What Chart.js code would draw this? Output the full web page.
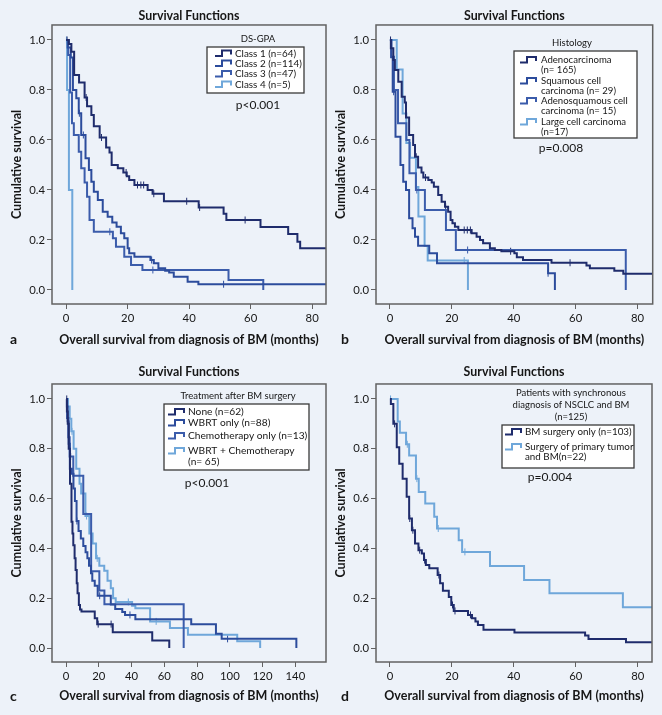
<!DOCTYPE html>
<html>
<head>
<meta charset="utf-8">
<script src="https://cdn.jsdelivr.net/npm/chart.js@4.4.1/dist/chart.umd.min.js"></script>
<style>
  html, body { margin: 0; padding: 0; background: #edf2f9; }
  #wrap { position: relative; width: 662px; height: 715px; overflow: hidden; }
  canvas { position: absolute; }
</style>
</head>
<body>
<div id="wrap">
  <canvas id="chartA" width="331" height="352" style="left:0;top:0"></canvas>
  <canvas id="chartB" width="331" height="352" style="left:331px;top:0"></canvas>
  <canvas id="chartC" width="331" height="363" style="left:0;top:352px"></canvas>
  <canvas id="chartD" width="331" height="363" style="left:331px;top:352px"></canvas>
</div>
<script>
const FONT = 'Lato, "Open Sans", sans-serif';
const INK = '#161616';
const AXIS = '#626262';
const NAVY = '#1f2c6c';
const BLUE2 = '#2c4c9c';
const BLUE3 = '#3b5cab';
const LIGHT = '#6fa7da';

// shared axis ticks
const yTicks = [0, 0.2, 0.4, 0.6, 0.8, 1.0];
const xTicks80 = [0, 20, 40, 60, 80];
const xTicks140 = [0, 20, 40, 60, 80, 100, 120, 140];
const xTitle = 'Overall survival from diagnosis of BM (months)';
const yTitle = 'Cumulative survival';
const chartTitle = 'Survival Functions';

// a - DS-GPA
const timeA1 = [0, 0.9, 1.7, 2.6, 4.2, 6.0, 6.8, 8.2, 9.0, 10.9, 13.0, 14.1, 14.8, 16.8, 18.6, 19.7, 20.5, 22.2, 26.5, 28.1, 31.8, 43.1, 51.2, 52.1, 63.2, 72.2, 75.2, 76.1, 86];
const survA1 = [1.0, 0.984, 0.953, 0.86, 0.83, 0.77, 0.735, 0.70, 0.655, 0.61, 0.57, 0.55, 0.50, 0.487, 0.47, 0.455, 0.44, 0.42, 0.40, 0.385, 0.355, 0.33, 0.305, 0.28, 0.252, 0.224, 0.193, 0.167, 0.167];
const censA1 = [0.3, 6.5, 11.5, 19.5, 23.2, 24.3, 25.2, 28.5, 39.2, 43.4, 58.2];
const timeA2 = [0, 0.5, 1.5, 2.2, 3.3, 4.1, 4.9, 6.3, 7.4, 8.2, 9.0, 10.3, 11.9, 13.5, 15.0, 16.4, 17.8, 18.9, 20.0, 20.5, 22.2, 27.4, 28.5, 30.0, 32.2, 33.5, 35.0, 39.5, 43.0, 86];
const survA2 = [1.0, 0.97, 0.93, 0.80, 0.767, 0.707, 0.62, 0.527, 0.48, 0.433, 0.393, 0.36, 0.313, 0.293, 0.27, 0.253, 0.227, 0.207, 0.167, 0.147, 0.133, 0.12, 0.107, 0.087, 0.077, 0.07, 0.053, 0.033, 0.023, 0.023];
const censA2 = [4.3, 5.6, 27.8, 51.2];
const timeA3 = [0, 0.65, 1.3, 1.9, 2.5, 4.1, 4.9, 6.0, 6.8, 7.6, 9.0, 15.2, 16.2, 18.9, 21.1, 24.8, 52.8, 64.1];
const survA3 = [1.0, 0.94, 0.79, 0.667, 0.62, 0.553, 0.487, 0.43, 0.373, 0.28, 0.233, 0.207, 0.173, 0.133, 0.10, 0.08, 0.04, 0.0];
const censA3 = [14.2, 28.2];
const timeA4 = [0, 0.3, 0.9, 2.0];
const survA4 = [1.0, 0.8, 0.4, 0.0];
const censA4 = [0.1];
const labelsA = [['Class 1 (n=64)'], ['Class 2 (n=114)'], ['Class 3 (n=47)'], ['Class 4 (n=5)']];

// b - Histology
const timeB1 = [0, 0.3, 1.1, 1.6, 2.7, 3.8, 4.8, 5.2, 6.2, 7.5, 8.1, 9.1, 10.2, 10.8, 12.4, 13.5, 14.2, 15.6, 16.7, 17.8, 18.8, 19.6, 20.2, 21.0, 22.1, 26.4, 28.0, 29.1, 30.1, 32.3, 33.9, 36.0, 40.2, 41.0, 43.0, 52.2, 63.5, 64.6, 72.5, 75.4, 86];
const survB1 = [1.0, 0.967, 0.92, 0.88, 0.833, 0.773, 0.75, 0.69, 0.62, 0.58, 0.533, 0.49, 0.47, 0.45, 0.44, 0.43, 0.413, 0.38, 0.353, 0.333, 0.313, 0.28, 0.267, 0.253, 0.24, 0.227, 0.213, 0.2, 0.187, 0.167, 0.16, 0.155, 0.147, 0.131, 0.12, 0.109, 0.098, 0.087, 0.077, 0.065, 0.065];
const censB1 = [0.2, 8.5, 11.5, 18.0, 24.0, 25.0, 26.0, 39.0, 58.2];
const timeB2 = [0, 0.4, 0.9, 1.8, 3.4, 4.3, 5.2, 6.2, 7.3, 8.1, 9.1, 12.7, 15.2, 51.1, 53.3];
const survB2 = [1.0, 0.931, 0.793, 0.613, 0.50, 0.433, 0.40, 0.287, 0.247, 0.213, 0.177, 0.147, 0.107, 0.067, 0.0];
const censB2 = [1.2, 51.1];
const timeB3 = [0, 0.5, 1.3, 2.6, 5.3, 6.3, 8.4, 11.3, 18.1, 21.3, 76.2];
const survB3 = [1.0, 0.933, 0.80, 0.667, 0.60, 0.467, 0.40, 0.32, 0.24, 0.16, 0.0];
const censB3 = [8.7, 25.1];
const timeB4 = [0, 2.2, 4.1, 5.3, 6.5, 8.4, 9.2, 11.2, 12.2, 25.2];
const survB4 = [1.0, 0.882, 0.706, 0.588, 0.529, 0.412, 0.294, 0.176, 0.118, 0.0];
const censB4 = [24.0];
const labelsB = [['Adenocarcinoma', '(n= 165)'], ['Squamous cell', 'carcinoma (n= 29)'], ['Adenosquamous cell', 'carcinoma (n= 15)'], ['Large cell carcinoma', '(n=17)']];

// c - Treatment after BM surgery
const timeC1 = [0, 0.5, 1.0, 1.6, 2.4, 3.3, 3.9, 4.4, 5.2, 5.8, 6.5, 7.0, 7.8, 8.5, 9.4, 17.5, 19.0, 28.5, 52.6, 63.0];
const survC1 = [1.0, 0.95, 0.90, 0.80, 0.66, 0.507, 0.46, 0.413, 0.36, 0.313, 0.26, 0.22, 0.173, 0.155, 0.147, 0.12, 0.096, 0.063, 0.03, 0.0];
const censC1 = [0.4, 19.6, 27.5];
const timeC2 = [0, 0.5, 1.0, 1.6, 2.3, 3.5, 4.5, 5.4, 6.4, 7.6, 9.0, 10.5, 11.9, 13.0, 14.0, 15.2, 16.0, 17.5, 19.3, 27.3, 30.0, 34.3, 36.0, 42.3, 76.4, 91.5, 95.0, 140.6];
const survC2 = [1.0, 0.97, 0.91, 0.82, 0.72, 0.70, 0.64, 0.59, 0.51, 0.47, 0.44, 0.41, 0.385, 0.36, 0.33, 0.30, 0.27, 0.25, 0.21, 0.175, 0.157, 0.145, 0.133, 0.116, 0.096, 0.057, 0.037, 0.0];
const censC2 = [6.6, 20.5, 39.0, 98.6];
const timeC3 = [0, 0.6, 1.4, 2.2, 4.4, 10.5, 15.3, 20.3, 23.4, 71.8];
const survC3 = [1.0, 0.923, 0.846, 0.769, 0.692, 0.538, 0.308, 0.231, 0.176, 0.0];
const censC3 = [2.8];
const timeC4 = [0, 1.2, 2.2, 3.2, 4.6, 6.2, 8.2, 9.2, 11.8, 14.2, 16.2, 18.3, 20.3, 23.3, 25.3, 27.3, 28.7, 30.3, 40.3, 42.3, 51.3, 63.4, 74.4, 104.5, 118.5];
const survC4 = [1.0, 0.97, 0.92, 0.87, 0.80, 0.72, 0.66, 0.62, 0.53, 0.46, 0.42, 0.36, 0.33, 0.31, 0.27, 0.24, 0.20, 0.185, 0.17, 0.16, 0.107, 0.08, 0.053, 0.027, 0.0];
const censC4 = [3.6, 12.5, 19.0, 38.0, 55.0];
const labelsC = [['None (n=62)'], ['WBRT only (n=88)'], ['Chemotherapy only (n=13)'], ['WBRT + Chemotherapy', '(n= 65)']];

// d - synchronous NSCLC and BM
const timeD1 = [0, 0.3, 1.1, 2.2, 3.0, 4.1, 5.4, 6.2, 7.1, 8.1, 9.2, 10.3, 11.0, 11.6, 12.7, 15.4, 16.2, 17.1, 19.0, 19.8, 20.6, 25.2, 26.5, 27.6, 28.4, 30.2, 40.2, 63.0, 64.1, 76.2, 86];
const survD1 = [1.0, 0.98, 0.90, 0.806, 0.74, 0.68, 0.607, 0.52, 0.473, 0.42, 0.393, 0.38, 0.353, 0.333, 0.32, 0.293, 0.26, 0.23, 0.205, 0.173, 0.149, 0.133, 0.12, 0.107, 0.093, 0.073, 0.062, 0.05, 0.036, 0.023, 0.023];
const censD1 = [1.5, 6.4, 7.4, 9.6, 11.2, 15.8, 20.2, 21.0, 26.0];
const timeD2 = [0, 2.5, 3.2, 5.2, 6.2, 8.4, 9.3, 11.4, 14.3, 15.2, 22.2, 23.3, 32.3, 43.3, 51.5, 75.2, 86];
const survD2 = [1.0, 0.909, 0.864, 0.818, 0.773, 0.68, 0.626, 0.58, 0.527, 0.48, 0.433, 0.386, 0.329, 0.273, 0.22, 0.164, 0.164];
const censD2 = [0.2, 5.6, 8.7, 15.6, 24.2];
const labelsD = [['BM surgery only (n=103)'], ['Surgery of primary tumor', 'and BM(n=22)']];

function stepAt(times, surv, t) {
  let v = surv[0];
  for (let i = 0; i < times.length; i++) {
    if (times[i] <= t) v = surv[i];
  }
  return v;
}

function curve(label, times, surv, color) {
  return {
    label: label,
    data: times.map((t, i) => ({ x: t, y: surv[i] })),
    showLine: true,
    stepped: true,
    borderColor: color,
    borderWidth: 2,
    pointRadius: 0,
    pointHoverRadius: 0
  };
}

function marks(times, surv, cens, color) {
  return {
    data: cens.map(t => ({ x: t, y: stepAt(times, surv, t) })),
    showLine: false,
    pointStyle: 'line',
    rotation: 90,
    pointRadius: 3.5,
    borderColor: color,
    borderWidth: 1
  };
}

// box frame round the plot
const framePlugin = {
  id: 'frame',
  afterDatasetsDraw(chart) {
    const a = chart.chartArea;
    const ctx = chart.ctx;
    ctx.save();
    ctx.strokeStyle = AXIS;
    ctx.lineWidth = 1.5;
    ctx.strokeRect(a.left, a.top, a.right - a.left, a.bottom - a.top);
    ctx.restore();
  }
};

// legend box with heading, p value and panel letter
const boxLegend = {
  id: 'boxLegend',
  afterDraw(chart, args, o) {
    const ctx = chart.ctx;
    ctx.save();
    ctx.textBaseline = 'middle';
    ctx.fillStyle = INK;
    ctx.font = '9.5px ' + FONT;
    ctx.textAlign = 'center';
    o.heading.forEach((line, i) => ctx.fillText(line, o.headX, o.headY + i * 12));

    const [bx, by, bw, bh] = o.box;
    ctx.fillStyle = '#ffffff';
    ctx.fillRect(bx, by, bw, bh);
    ctx.strokeStyle = '#3a3a3a';
    ctx.lineWidth = 1.3;
    ctx.strokeRect(bx, by, bw, bh);

    const sets = chart.data.datasets.filter(d => d.label);
    ctx.textAlign = 'left';
    sets.forEach((d, i) => {
      const y = o.rows[i];
      const x = o.iconX;
      ctx.strokeStyle = d.borderColor;
      ctx.lineWidth = 2;
      ctx.beginPath();
      ctx.moveTo(x, y + 2.5);
      ctx.lineTo(x + 7, y + 2.5);
      ctx.lineTo(x + 7, y - 3);
      ctx.lineTo(x + 16, y - 3);
      ctx.lineTo(x + 16, y + 1);
      ctx.stroke();
      ctx.fillStyle = INK;
      ctx.font = o.itemSize + 'px ' + FONT;
      o.labels[i].forEach((line, k) => ctx.fillText(line, o.textX, y + k * 10.3));
    });

    ctx.font = '12px ' + FONT;
    ctx.textAlign = 'center';
    ctx.fillText(o.pText, o.pX, o.pY);

    ctx.font = 'bold 14px ' + FONT;
    ctx.textAlign = 'left';
    ctx.fillText(o.letter, 10, o.letterY);
    ctx.restore();
  }
};

function makeKM(id, g, datasets, xMin, xMax, xTicks, legend) {
  const tickFont = { family: FONT, size: 11.3 };
  const titleFont = { family: FONT, size: 12.5, weight: 'bold' };
  return new Chart(document.getElementById(id), {
    type: 'scatter',
    data: { datasets: datasets },
    plugins: [framePlugin, boxLegend],
    options: {
      responsive: false,
      animation: false,
      layout: { padding: { top: 0, left: 0, bottom: 0, right: g.w - g.right } },
      plugins: {
        legend: { display: false },
        tooltip: { enabled: false },
        title: {
          display: true,
          text: chartTitle,
          fullSize: false,
          color: INK,
          font: { family: FONT, size: 12.4, weight: 'bold' },
          padding: { top: g.titleY - 7.4, bottom: g.top - g.titleY - 7.5 }
        },
        boxLegend: legend
      },
      scales: {
        x: {
          type: 'linear',
          min: xMin,
          max: xMax,
          afterBuildTicks: s => { s.ticks = xTicks.map(v => ({ value: v })); },
          afterFit: s => { s.height = g.h - g.bottom; },
          grid: { drawOnChartArea: false, tickLength: 5, color: AXIS, lineWidth: 1 },
          border: { display: false },
          ticks: { font: tickFont, color: INK, padding: 3, maxRotation: 0, autoSkip: false },
          title: { display: true, text: xTitle, color: INK, font: titleFont, padding: { top: 0, bottom: g.xTitlePad } }
        },
        y: {
          type: 'linear',
          min: -0.056,
          max: 1.06,
          afterBuildTicks: s => { s.ticks = yTicks.map(v => ({ value: v })); },
          afterFit: s => { s.width = g.left; },
          grid: { drawOnChartArea: false, tickLength: 5, color: AXIS, lineWidth: 1 },
          border: { display: false },
          ticks: { font: tickFont, color: INK, padding: 2, callback: v => v.toFixed(1) },
          title: { display: true, text: yTitle, color: INK, font: titleFont, padding: { top: g.yTitlePad, bottom: 0 } }
        }
      }
    }
  });
}

const geoTopLeft = { w: 331, h: 352, left: 52, right: 328, top: 25, bottom: 304, titleY: 16, xTitlePad: 5, yTitlePad: 9 };
const geoTopRight = { w: 331, h: 352, left: 45, right: 321.7, top: 25, bottom: 304, titleY: 16, xTitlePad: 5, yTitlePad: 2 };
const geoBotLeft = { w: 331, h: 363, left: 52, right: 330, top: 32, bottom: 310, titleY: 20, xTitlePad: 12, yTitlePad: 9 };
const geoBotRight = { w: 331, h: 363, left: 45, right: 321, top: 32, bottom: 310, titleY: 20, xTitlePad: 12, yTitlePad: 2 };

makeKM('chartA', geoTopLeft, [
  curve('c1', timeA1, survA1, NAVY), curve('c2', timeA2, survA2, BLUE2),
  curve('c3', timeA3, survA3, BLUE3), curve('c4', timeA4, survA4, LIGHT),
  marks(timeA1, survA1, censA1, NAVY), marks(timeA2, survA2, censA2, BLUE2),
  marks(timeA3, survA3, censA3, BLUE3), marks(timeA4, survA4, censA4, LIGHT)
], -4.6, 84.5, xTicks80, {
  heading: ['DS-GPA'], headX: 258, headY: 39,
  box: [207, 47, 97, 46], rows: [53.5, 63.5, 74, 84.5], iconX: 215, textX: 235, labels: labelsA, itemSize: 9.9,
  pText: 'p<0.001', pX: 258, pY: 105, letter: 'a', letterY: 339
});

makeKM('chartB', geoTopRight, [
  curve('b1', timeB1, survB1, NAVY), curve('b2', timeB2, survB2, BLUE2),
  curve('b3', timeB3, survB3, BLUE3), curve('b4', timeB4, survB4, LIGHT),
  marks(timeB1, survB1, censB1, NAVY), marks(timeB2, survB2, censB2, BLUE2),
  marks(timeB3, survB3, censB3, BLUE3), marks(timeB4, survB4, censB4, LIGHT)
], -4.5, 84.9, xTicks80, {
  heading: ['Histology'], headX: 241, headY: 43,
  box: [183, 51, 123, 87], rows: [60, 81, 101, 122], iconX: 189, textX: 210, labels: labelsB, itemSize: 9.6,
  pText: 'p=0.008', pX: 230, pY: 148, letter: 'b', letterY: 339
});

makeKM('chartC', geoBotLeft, [
  curve('n', timeC1, survC1, NAVY), curve('w', timeC2, survC2, BLUE2),
  curve('ch', timeC3, survC3, BLUE3), curve('wc', timeC4, survC4, LIGHT),
  marks(timeC1, survC1, censC1, NAVY), marks(timeC2, survC2, censC2, BLUE2),
  marks(timeC3, survC3, censC3, BLUE3), marks(timeC4, survC4, censC4, LIGHT)
], -8.6, 158.7, xTicks140, {
  heading: ['Treatment after BM surgery'], headX: 238, headY: 44,
  box: [164, 52, 145, 66], rows: [60, 71, 84, 99], iconX: 168, textX: 188, labels: labelsC, itemSize: 10.2,
  pText: 'p<0.001', pX: 207, pY: 131, letter: 'c', letterY: 344
});

makeKM('chartD', geoBotRight, [
  curve('s', timeD1, survD1, NAVY), curve('sp', timeD2, survD2, LIGHT),
  marks(timeD1, survD1, censD1, NAVY), marks(timeD2, survD2, censD2, LIGHT)
], -4.5, 84.6, xTicks80, {
  heading: ['Patients with synchronous', 'diagnosis of NSCLC and BM', '(n=125)'], headX: 240, headY: 41,
  box: [171, 73, 132, 43], rows: [80, 95], iconX: 174, textX: 194, labels: labelsD, itemSize: 9.8,
  pText: 'p=0.004', pX: 219, pY: 125, letter: 'd', letterY: 344
});
</script>
</body>
</html>
